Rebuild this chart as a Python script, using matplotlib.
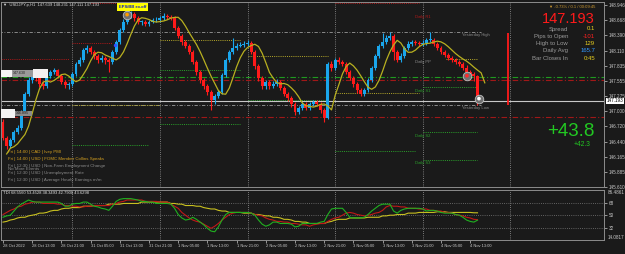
import numpy as np
import matplotlib
matplotlib.use("Agg")
import matplotlib.pyplot as plt
from matplotlib.transforms import blended_transform_factory as btf
from matplotlib.patches import Rectangle

W, H = 625, 254
BG = '#1a1a1a'
plt.rcParams['font.family'] = ['Liberation Sans', 'DejaVu Sans']

# ---------------- data (USDJPY.p H1) ----------------
first_open = 146.80
closes = [146.51,146.36,146.47,146.62,146.69,146.99,147.32,147.57,147.65,147.61,
          147.50,147.46,147.65,147.72,147.76,147.65,147.54,147.48,147.50,147.68,
          147.87,147.94,148.12,148.16,148.09,148.01,147.94,147.98,147.94,147.90,
          148.09,148.27,148.49,148.64,148.75,148.78,148.71,148.64,148.64,148.60,
          148.64,148.67,148.67,148.71,148.75,148.73,148.71,148.53,148.38,148.27,
          148.20,148.09,147.90,147.72,147.57,147.46,147.35,147.21,147.28,147.35,
          147.67,147.94,148.09,148.16,148.20,148.22,148.23,148.25,148.09,147.83,
          147.61,147.46,147.54,147.46,147.50,147.54,147.43,147.32,147.24,147.13,
          146.99,147.06,147.13,147.06,147.13,147.17,147.13,147.02,146.88,147.87,
          147.79,147.94,147.90,147.87,147.72,147.61,147.50,147.39,147.32,147.39,
          147.57,147.79,148.01,148.20,148.27,148.34,148.38,148.09,147.94,148.01,
          148.16,148.23,148.27,148.25,148.23,148.25,148.31,148.31,148.23,148.16,
          148.09,148.03,147.98,147.94,147.90,147.87,147.79,147.72,147.68,147.64,
          147.193]
highs = [146.86,146.55,146.50,146.66,146.75,147.03,147.36,147.62,147.70,147.72,
         147.64,147.55,147.68,147.76,147.80,147.78,147.68,147.58,147.54,147.72,
         147.91,147.99,148.16,148.21,148.19,148.12,148.04,148.03,148.01,147.98,
         148.12,148.31,148.53,148.69,148.86,148.84,148.82,148.74,148.68,148.67,
         148.68,148.71,148.72,148.75,148.80,148.79,148.77,148.74,148.56,148.42,
         148.31,148.23,148.12,147.93,147.76,147.61,147.50,147.39,147.32,147.39,
         147.70,147.98,148.13,148.34,148.25,148.27,148.28,148.30,148.28,148.12,
         147.87,147.65,147.58,147.58,147.55,147.59,147.57,147.46,147.36,147.28,
         147.17,147.10,147.17,147.17,147.17,147.21,147.21,147.17,147.06,147.91,
         147.92,147.98,147.99,147.94,147.90,147.75,147.65,147.53,147.43,147.43,
         147.61,147.83,148.05,148.24,148.43,148.40,148.45,148.41,148.12,148.06,
         148.20,148.28,148.31,148.31,148.29,148.30,148.35,148.45,148.34,148.27,
         148.20,148.13,148.07,148.02,147.98,147.94,147.90,147.84,147.76,147.72,
         147.67]
lows = [146.47,146.31,146.32,146.44,146.58,146.66,146.95,147.28,147.52,147.56,
        147.45,147.40,147.43,147.61,147.68,147.61,147.50,147.42,147.40,147.46,
        147.64,147.83,147.90,148.07,148.04,147.96,147.88,147.90,147.86,147.72,
        147.87,148.05,148.24,148.45,148.60,148.70,148.66,148.60,148.58,148.56,
        148.57,148.61,148.63,148.64,148.68,148.69,148.67,148.49,148.34,148.22,
        148.15,148.04,147.86,147.67,147.52,147.41,147.30,147.02,147.14,147.24,
        147.31,147.63,147.90,148.05,148.12,148.17,148.18,148.19,148.04,147.78,
        147.55,147.40,147.41,147.41,147.42,147.46,147.38,147.27,147.19,147.08,
        146.93,146.95,147.02,147.02,147.03,147.09,147.09,146.97,146.80,146.85,
        147.74,147.75,147.86,147.83,147.68,147.57,147.45,147.34,147.28,147.28,
        147.35,147.53,147.75,147.97,148.16,148.23,148.30,147.94,147.90,147.91,
        147.98,148.12,148.19,148.21,148.19,148.20,148.21,148.26,148.19,148.12,
        148.05,147.99,147.93,147.90,147.86,147.83,147.75,147.68,147.63,147.56,
        147.111]
prior_closes = [146.15, 146.18, 146.20, 146.22, 146.25]
ma_period = 5
ma_shift = 2

tdi_green = [47,49,50,56,62,66,69,72,70,69, 69,69,69,69,69,69,67,63,63,66,
             67,67,69,69,66,63,62,60,59,57, 63,70,73,74,74,74,73,72,70,70,
             69,69,67,67,67,67,66,60,51,46, 43,44,47,44,40,36,31,27,26,33,
             43,51,54,54,54,54,54,54,53,50, 43,37,34,36,40,40,38,38,38,37,
             33,34,38,38,38,38,38,40,41,51, 59,60,60,60,54,47,46,46,46,47,
             51,56,60,64,66,66,66,56,53,57, 59,60,60,60,60,59,56,57,57,56,
             54,53,53,53,51,50,47,43,41,40, 42.79]
tdi_red = [51,54,57,59,62,63,66,67,69,69, 69,67,67,67,67,66,66,64,64,63,
           63,62,62,63,63,64,64,64,64,64, 66,67,69,70,72,72,72,72,72,70,
           70,70,70,69,69,69,66,63,60,54, 50,46,43,41,40,37,34,31,34,38,
           43,47,51,53,54,54,54,54,53,51, 50,49,46,44,43,41,41,40,40,38,
           38,37,36,36,34,36,37,38,38,41, 44,46,47,50,53,54,53,51,50,49,
           50,51,53,54,57,62,64,63,63,62, 62,60,60,60,59,59,59,57,57,56,
           56,54,54,53,51,50,49,47,46,44, 43.63]
tdi_yellow = [40,41,43,44,46,47,47,49,50,51, 53,53,54,56,57,57,59,60,60,61,
              61,61,63,63,63,64,64,64,64,66, 66,66,66,67,67,67,67,67,69,69,
              69,69,69,69,69,69,67,67,66,66, 64,64,64,63,63,61,60,59,59,57,
              56,56,54,54,54,54,53,53,53,51, 51,50,49,49,47,47,46,44,44,43,
              41,41,40,40,38,38,38,38,38,40, 41,43,44,44,44,46,46,46,46,46,
              47,47,47,47,49,49,50,50,51,51, 51,53,53,53,54,54,54,54,54,55,
              55,55,54,54,54,54,54,54,54,53.5, 53.45]

price_ticks = [148.946, 148.668, 148.390, 148.110, 147.835, 147.555, 147.275,
               147.000, 146.720, 146.440, 146.165, 145.885, 145.610]
tdi_ticks = [68, 50, 32]
time_tick_bars = [0, 8, 16, 24, 32, 40, 48, 56, 64, 72, 80, 88, 96, 104, 112, 120, 128]
time_tick_labels = ["28 Oct 2022", "28 Oct 13:00", "28 Oct 21:00", "31 Oct 05:00",
                    "31 Oct 13:00", "31 Oct 21:00", "1 Nov 05:00", "1 Nov 13:00",
                    "1 Nov 21:00", "2 Nov 05:00", "2 Nov 13:00", "2 Nov 21:00",
                    "3 Nov 05:00", "3 Nov 13:00", "3 Nov 21:00", "4 Nov 05:00",
                    "4 Nov 13:00"]
day_start_bars = [19, 43, 67, 91, 115, 139]
bid = 147.193

# pivot segments: start bar, end bar, level, kind
piv_start = [-1, 19, 24, 19, 19, 43, 43, 43, 67, 67, 91, 91, 91, 121.5, 115, 115, 115]
piv_end   = [18, 30, 36, 43, 40, 65, 65, 65, 89, 89, 114, 114, 113, 130, 130, 130, 130]
piv_level = [147.96, 148.25, 148.985, 147.12, 146.38, 148.31, 147.76, 146.77,
             148.01, 147.21, 148.985, 147.34, 146.27, 147.96, 147.45, 146.62, 146.11]
piv_kind  = ['R', 'R', 'R', 'P', 'S', 'P', 'S', 'S', 'P', 'S', 'R', 'P', 'S', 'P', 'S', 'S', 'S']

yest_high, yest_low = 148.45, 147.12
full_lines = [147.63, 147.57, 146.895]
full_colors = ['#1f9a1f', '#a01818', '#a01818']

signal_bars = [34.0, 127.1, 130.4]
signal_prices = [148.77, 147.65, 147.23]
signal_colors = ['#ff9a00', '#ff2a2a', '#ffffff']
day_range_bar, day_high, day_low = 138.4, 148.43, 147.11

# ---------------- figure ----------------
fig = plt.figure(figsize=(W / 100, H / 100), dpi=100, facecolor=BG)
ax = fig.add_axes([1 / W, 1 - 187 / H, 603 / W, 185 / H], facecolor=BG)
ax2 = fig.add_axes([1 / W, 1 - 240 / H, 603 / W, 50 / H], facecolor=BG)
xl = ((1 - 3) / 3.65, (604 - 3) / 3.65)
for a in (ax, ax2):
    a.set_xlim(*xl)
    for s in a.spines.values():
        s.set_color('#8c8c8c')
        s.set_linewidth(0.7)
    for d in day_start_bars:
        a.axvline(d, color='#9a9a9a', lw=0.6, ls=(0, (1, 1.6)), zorder=1)

ax.set_ylim(145.610, 149.001)

idx = np.arange(len(closes))
c = np.array(closes)
o = np.array([first_open] + closes[:-1])
o[-1] = 147.639
hi = np.array(highs)
lo = np.array(lows)
bull = c >= o
cols = np.where(bull, '#1aa6ec', '#ff1a1a')

# horizontal reference lines
for lvl, col in zip(full_lines, full_colors):
    ax.axhline(lvl, color=col, lw=0.8, ls=(0, (5, 2, 1, 2)), zorder=2)
ax.hlines([yest_high, yest_low], -1, 131, color='#9a9a9a', lw=0.6,
          ls=(0, (4, 2, 1, 2)), zorder=2)
kind_col = {'R': '#b01818', 'P': '#b5a82a', 'S': '#2aa02a'}
for s0, s1, lv, k in zip(piv_start, piv_end, piv_level, piv_kind):
    ax.hlines(lv, s0, s1, color=kind_col[k], lw=0.7, ls=(0, (1, 1.2)), zorder=2)
ax.axhline(bid, color='#c8c8c8', lw=0.8, zorder=2)

# candles
ax.vlines(idx, lo, hi, colors=cols, lw=0.8, zorder=3)
ax.bar(idx, np.maximum(np.abs(c - o), 0.008), bottom=np.minimum(o, c),
       width=0.8, color=cols, lw=0, zorder=4)

# moving average (LWMA, shifted)
allc = np.array(prior_closes + closes)
w = np.arange(1, ma_period + 1)
lw = np.convolve(allc, w[::-1], 'valid') / w.sum()
ma_bars = np.arange(len(lw)) + (ma_period - 1) - len(prior_closes) + ma_shift
ax.plot(ma_bars, lw, color='#b8b020', lw=0.9, zorder=5)

# daily range line
ax.vlines(day_range_bar, day_low, day_high, color='#ff1a1a', lw=1.3, zorder=5)

# signal markers
ax.scatter(signal_bars, signal_prices, s=38, facecolor='#707070', edgecolor='#c0c0c0',
           lw=0.6, zorder=6)
ax.scatter(signal_bars, signal_prices, s=7, c=signal_colors, lw=0, zorder=7)
ax.scatter([30.7], [148.22], s=6, c='#3050ff', lw=0, zorder=7)

# axes ticks
ax.set_xticks([])
ax.yaxis.tick_right()
ax.set_yticks(price_ticks)
ax.set_yticklabels([f"{v:.3f}" for v in price_ticks])
ax.tick_params(axis='y', colors='#c8c8c8', labelsize=3.3, length=2, width=0.5, pad=1.5)
ax.text(1.004, bid, f"{bid:.3f}", transform=btf(ax.transAxes, ax.transData),
        fontsize=3.3, color='black', va='center', ha='left', clip_on=False,
        bbox=dict(fc='white', ec='none', pad=0.4), zorder=10)

# TDI panel
ax2.set_ylim(14.0817, 86.4861)
for t in tdi_ticks:
    ax2.axhline(t, color='#7a7a7a', lw=0.6, ls=(0, (1, 1.6)), zorder=1)
ax2.plot(idx, tdi_yellow, color='#c8c020', lw=0.8, zorder=3)
ax2.plot(idx, tdi_red, color='#c01818', lw=0.8, zorder=4)
ax2.plot(idx, tdi_green, color='#20b020', lw=0.8, zorder=5)
ax2.yaxis.tick_right()
ax2.set_yticks(tdi_ticks)
ax2.set_yticklabels([str(t) for t in tdi_ticks])
ax2.tick_params(axis='y', colors='#c8c8c8', labelsize=3.3, length=2, width=0.5, pad=1.5)
ax2.set_xticks(time_tick_bars)
ax2.set_xticklabels(time_tick_labels)
ax2.tick_params(axis='x', colors='#c8c8c8', labelsize=2.9, length=2, width=0.5, pad=1)
for lab in ax2.get_xticklabels():
    lab.set_ha('left')
ax2.text(1.006, 86.4861, "86.4861", transform=btf(ax2.transAxes, ax2.transData),
         fontsize=3.3, color='#c8c8c8', va='top', ha='left', clip_on=False)
ax2.text(1.006, 14.0817, "14.0817", transform=btf(ax2.transAxes, ax2.transData),
         fontsize=3.3, color='#c8c8c8', va='bottom', ha='left', clip_on=False)
ax2.text(0.004, 0.93, "TDI 68.5560 53.4528 38.3493 42.7900 43.6298",
         transform=ax2.transAxes, fontsize=3.0, color='#e0e0e0', va='center')


def ft(x, y, s, **kw):
    fig.text(x / W, 1 - y / H, s, va='center', **kw)


def box(x0, y0, x1, y1, col):
    fig.add_artist(Rectangle((x0 / W, 1 - y1 / H), (x1 - x0) / W, (y1 - y0) / H,
                             transform=fig.transFigure, fc=col, ec='none', zorder=20))


# left label boxes
box(1, 70, 12, 77, '#f4f4f4')
box(12, 70, 33, 77, '#9a9a9a')
box(33, 69, 48, 78, '#f4f0f0')
box(1, 109, 15, 118, '#f4f4f4')
box(15, 111, 32, 116, '#8a8a8a')
fig.text(13 / W, 1 - 73.5 / H, "147.630", fontsize=2.6, color='#202020', va='center', zorder=21)
fig.text(16 / W, 1 - 113.5 / H, "146.895", fontsize=2.6, color='#202020', va='center', zorder=21)

# header
ft(3, 5, "▼  USDJPY.p,H1  147.639 148.231 147.111 147.193", fontsize=3.0, color='#d8d8d8')
box(117, 3, 148, 11, '#ffff00')
fig.text(132.5 / W, 1 - 7 / H, "EPS/BB ex.off", fontsize=3.0, color='#1020c0',
         va='center', ha='center', weight='bold', zorder=21)

# pivot labels
ft(415, 17, "Daily R1", fontsize=3.0, color='#b01818')
ft(415, 62, "Daily PP", fontsize=3.0, color='#8a8a8a')
ft(415, 91, "Daily S1", fontsize=3.0, color='#2aa02a')
ft(415, 136, "Daily S2", fontsize=3.0, color='#2aa02a')
ft(415, 163, "Daily S3", fontsize=3.0, color='#2aa02a')
ft(462, 35, "Yesterday High", fontsize=3.0, color='#8a8a8a')
ft(462, 108, "Yesterday Low", fontsize=3.0, color='#8a8a8a')

# info panel
ft(595, 7, "▼ -0.73% / 0.1 / 00:09:45", fontsize=3.0, color='#d09a30', ha='right')
ft(595, 19, "147.193", fontsize=10.5, color='#ff1a1a', ha='right')
labels = ["Spread", "Pips to Open", "High to Low", "Daily Avg", "Bar Closes In"]
vals = ["0.1", "-101", "129", "165.7", "0:45"]
vcols = ['#e8d020', '#ff2020', '#e8d020', '#3399ff', '#e8d020']
for k, (lb, vv, vc) in enumerate(zip(labels, vals, vcols)):
    yy = 29 + k * 7.3
    ft(568, yy, lb, fontsize=4.3, color='#9a9a9a', ha='right')
    ft(595, yy, vv, fontsize=4.3, color=vc, ha='right')
ft(595, 131, "+43.8", fontsize=13.5, color='#22c822', ha='right')
ft(590, 145, "+42.3", fontsize=4.8, color='#22c822', ha='right')

# news
news = [("Fri | 14:00 | CAD | Ivey PMI", '#d4a020', 152),
        ("Fri | 14:00 | USD | FOMC Member Collins Speaks", '#d4a020', 159),
        ("Fri | 12:30 | USD | Non-Farm Employment Change", '#8a8a8a', 166),
        ("Fri | 12:30 | USD | Unemployment Rate", '#8a8a8a', 173),
        ("Fri | 12:30 | USD | Average Hourly Earnings m/m", '#8a8a8a', 180)]
for s, col, yy in news:
    ft(8, yy, s, fontsize=3.2, color=col)
ft(8, 169, "No More Events", fontsize=3.2, color='#8a8a8a')

fig.savefig("out.png", dpi=100, facecolor=BG)
